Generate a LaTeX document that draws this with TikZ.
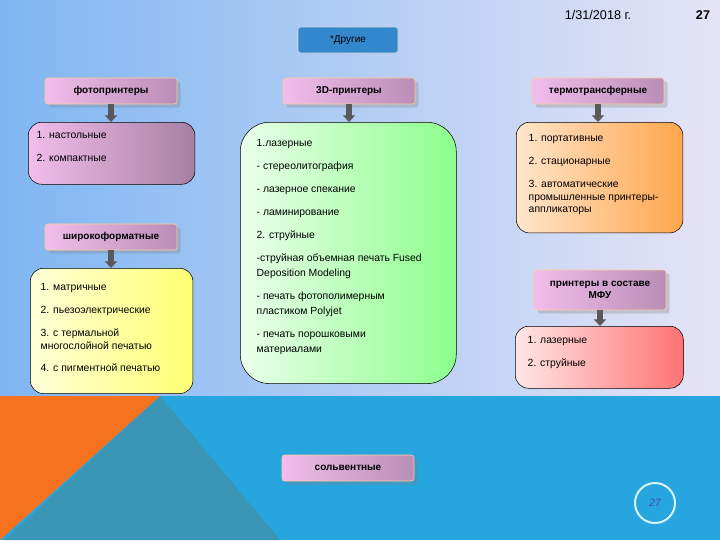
\documentclass[tikz,border=0pt]{standalone}
\usepackage{fontspec}
\setmainfont{Liberation Sans}
\usetikzlibrary{arrows.meta,shadows}
\definecolor{skyA}{HTML}{7FB6F2}
\definecolor{skyB}{HTML}{E6E4F6}
\definecolor{seaC}{HTML}{27A5DE}
\definecolor{tealC}{HTML}{3A96B4}
\definecolor{orangeC}{HTML}{F7721E}
\definecolor{pinkA}{HTML}{F2BDEC}
\definecolor{pinkB}{HTML}{B88EB6}
\tikzset{
  head/.style={draw=orange!40!white, rounded corners=2pt, left color=pinkA, right color=pinkB,
    minimum width=99pt, minimum height=19.5pt, font=\fontsize{7.5}{9}\selectfont\bfseries,
    align=center, drop shadow={opacity=0.3}},
  box/.style={draw=black, rounded corners=10pt, anchor=north west},
  items/.style={anchor=north west, align=left, font=\fontsize{7.8}{11.2}\selectfont},
  link/.style={draw=gray!70!black, line width=4pt, -{Triangle[width=9pt,length=5pt]}}
}
\begin{document}
\begin{tikzpicture}[x=0.75pt,y=-0.75pt]
\useasboundingbox (0,0) rectangle (720,540);
% background
\shade[left color=skyA, right color=skyB] (0,0) rectangle (720,396);
\fill[seaC] (0,396) rectangle (720,540);
\fill[orangeC] (0,396) -- (160,396) -- (0,540) -- cycle;
\fill[tealC] (160,396) -- (5,540) -- (280,540) -- cycle;
% header line
\node[font=\fontsize{9.5}{10}\selectfont] (date) at (598,15) {1/31/2018 г.};
\node[font=\fontsize{9.5}{10}\selectfont\bfseries] (page) at (703,15) {27};
% top node
\node[draw=gray!30, rounded corners=2pt, fill=blue!45!cyan!60!gray, minimum width=75pt,
  minimum height=19.5pt, font=\fontsize{7.5}{9}\selectfont] (other) at (348,40) {*Другие};
% headers
\node[head] (photo) at (111,91) {фотопринтеры};
\node[head] (three) at (349,91) {3D-принтеры};
\node[head] (thermo) at (598,91) {термотрансферные};
\node[head] (wide) at (111,237) {широкоформатные};
\node[head, minimum height=30pt] (mfu) at (600,290) {принтеры в составе\\МФУ};
\node[head] (solv) at (348,468) {сольвентные};
% boxes
\node[box, left color=pinkA, right color=pinkB!90!black, minimum width=125pt, minimum height=46.5pt] (photobox) at (28,122) {};
\node[items] at (32,127) {1. настольные\\[6pt]2. компактные};
\node[box, rounded corners=22pt, left color=green!8!white, right color=green!45!white, minimum width=162pt, minimum height=196pt] (threebox) at (240,122) {};
\node[items] at (252,135) {1.лазерные\\[6pt]- стереолитография\\[6pt]- лазерное спекание\\[6pt]- ламинирование\\[6pt]2. струйные\\[6pt]-струйная объемная печать Fused\\Deposition Modeling\\[6pt]- печать фотополимерным\\пластиком Polyjet\\[6pt]- печать порошковыми\\материалами};
\node[box, left color=orange!20!white, right color=orange!70!white, minimum width=125pt, minimum height=83pt] (thermobox) at (516,122) {};
\node[items] at (524,130) {1. портативные\\[6pt]2. стационарные\\[6pt]3. автоматические\\[-2pt]промышленные принтеры-\\[-2pt]аппликаторы};
\node[box, left color=yellow!15!white, right color=yellow!55!white, minimum width=122pt, minimum height=94pt] (widebox) at (30,268) {};
\node[items] at (36,279) {1. матричные\\[6pt]2. пьезоэлектрические\\[6pt]3. с термальной\\[-2pt]многослойной печатью\\[6pt]4. с пигментной печатью};
\node[box, left color=red!10!white, right color=red!55!white, minimum width=126pt, minimum height=46.5pt] (mfubox) at (515,326) {};
\node[items] at (523,332) {1. лазерные\\[6pt]2. струйные};
% arrows
\draw[link] (photo.south) -- (photo.south |- photobox.north);
\draw[link] (three.south) -- (three.south |- threebox.north);
\draw[link] (thermo.south) -- (thermo.south |- thermobox.north);
\draw[link] (wide.south) -- (wide.south |- widebox.north);
\draw[link] (mfu.south) -- (mfu.south |- mfubox.north);
% page circle
\draw[white!85!cyan, line width=1.5pt] (655,503) circle [radius=20];
\node[font=\fontsize{8}{9}\selectfont\itshape, text=blue!40!gray] (pg) at (655,503) {27};
\end{tikzpicture}
\end{document}
